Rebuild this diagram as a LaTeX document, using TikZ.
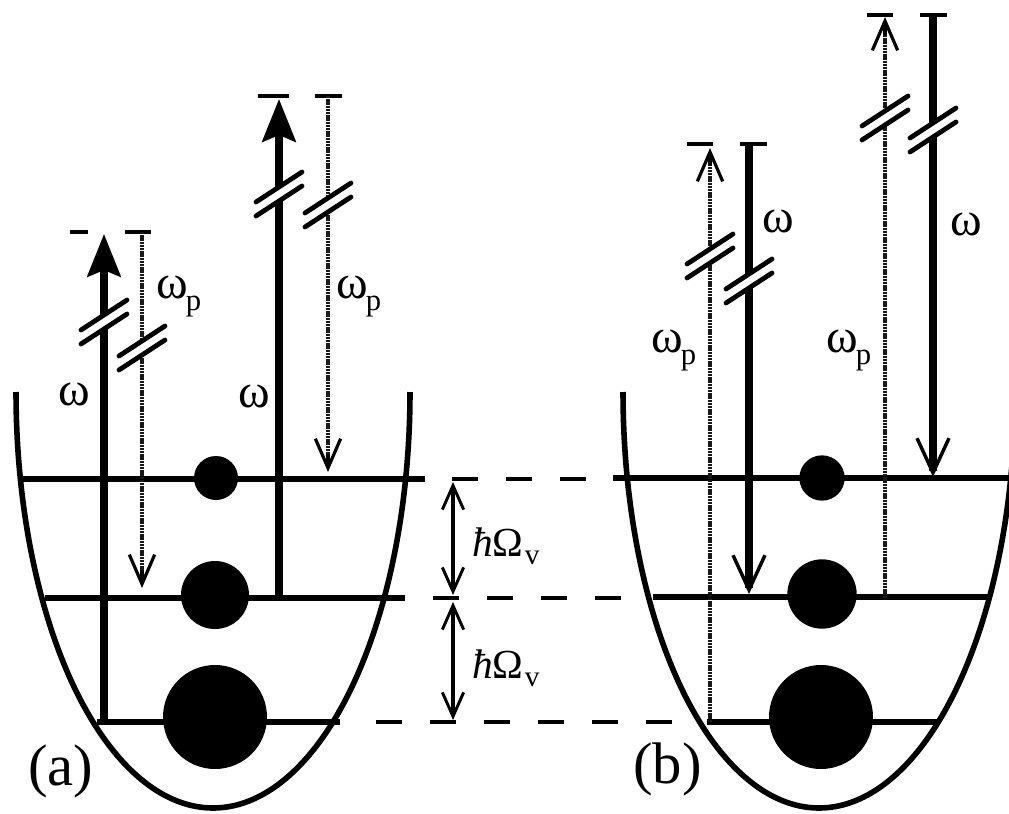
\documentclass[tikz,border=0pt]{standalone}
\usepackage{fontspec}
\newfontfamily\lbs{Liberation Serif}
\usetikzlibrary{arrows.meta}
\newcommand\brkmark[2]{%
  \draw[slash] ({#1-23},{#2+8}) -- ({#1+23},{#2-22});
  \draw[slash] ({#1-23},{#2+22}) -- ({#1+23},{#2-8});}
\newcommand\wlab{\lbs\fontsize{36}{36}\selectfont}
\newcommand\plab[1]{\kern-1.5pt\raisebox{-9pt}{\fontsize{23}{23}\selectfont #1}}
\newcommand\hOm{{\lbs\fontsize{31}{31}\selectfont{\itshape ħ}Ω\kern1pt\raisebox{-6pt}{\fontsize{22}{22}\selectfont v}}}
\begin{document}
\begin{tikzpicture}[x=0.75pt,y=-0.75pt,
  lvl/.style={line width=4pt},
  well/.style={line width=4.2pt},
  dsh/.style={line width=3.4pt, dash pattern=on 19.5pt off 21pt},
  thk/.style={line width=5.3pt},
  dotl/.style={line width=3pt, black!90, dash pattern=on 1.8pt off 0.6pt},
  topbar/.style={line width=3.2pt},
  slash/.style={line width=3.6pt, line cap=round},
  tipup/.style={-{Stealth[length=32pt,width=25pt,inset=5pt]}},
  tipv/.style={-{Straight Barb[length=26pt,width=24pt,line width=2.6pt]}},
  tipd/.style={-{Straight Barb[length=22pt,width=19pt,line width=2.4pt]}},
  hw/.style={line width=2.8pt, {Straight Barb[length=18pt,width=16pt,line width=2.2pt]}-{Straight Barb[length=18pt,width=16pt,line width=2.2pt]}},
  ball/.style={circle, fill=black, inner sep=0pt},
  lab/.style={inner sep=0pt, anchor=base west}
]
\useasboundingbox (0,0) rectangle (1009,813);
\clip (0,0) rectangle (1009,813);

% wells
\draw[well] plot[domain=180:360, samples=90, smooth] ({213+197*cos(\x)}, {392-416*sin(\x)});
\draw[well] plot[domain=180:360, samples=90, smooth] ({819+196*cos(\x)}, {392-416*sin(\x)});

% levels (a)
\draw[lvl] (20,479) -- (425,479);
\draw[lvl] (45,598) -- (405,598);
\draw[lvl] (97,722) -- (340,722);
% levels (b)
\draw[lvl] (613,478) -- (1009,478);
\draw[lvl] (653,597) -- (990,597);
\draw[lvl] (707,722) -- (937,722);
% dashed connections
\draw[dsh] (452,479) -- (587,479);
\draw[dsh] (433,598) -- (622,598);
\draw[dsh] (376,722) -- (672,722);

% populations
\node[ball, minimum size=33pt] (pa1) at (216,478) {};
\node[ball, minimum size=51pt] (pa2) at (215,595) {};
\node[ball, minimum size=78pt] (pa3) at (215,717) {};
\node[ball, minimum size=34pt] (pb1) at (822,478) {};
\node[ball, minimum size=52pt] (pb2) at (822,594) {};
\node[ball, minimum size=78pt] (pb3) at (821,717) {};

% ---- (a) ----
% A1 thick up omega
\coordinate (a1b) at (104,722); \coordinate (a1t) at (104,234);
\draw[thk] (a1b) -- (104,329);
\draw[thk, tipup] (104,315) -- (a1t);
\brkmark{104}{322}
\draw[topbar] (70,232) -- (88,232);
% A2 dotted down omega_p
\coordinate (a2t) at (142,232); \coordinate (a2b) at (142,588);
\draw[topbar] (125,232) -- (151,232);
\draw[dotl] (a2t) -- (142,341);
\draw[dotl] (142,355) -- (142,578);
\draw[line width=2.6pt, tipd] (142,570) -- (a2b);
\brkmark{142}{348}
% A3 thick up omega
\coordinate (a3b) at (279,598); \coordinate (a3t) at (279,99);
\draw[thk] (a3b) -- (279,201);
\draw[thk, tipup] (279,187) -- (a3t);
\brkmark{279}{194}
\draw[topbar] (258,96) -- (289,96);
% A4 dotted down omega_p
\coordinate (a4t) at (328,96); \coordinate (a4b) at (328,472);
\draw[topbar] (315,96) -- (342,96);
\draw[dotl] (a4t) -- (328,198);
\draw[dotl] (328,212) -- (328,462);
\draw[line width=2.6pt, tipd] (328,454) -- (a4b);
\brkmark{328}{205}

% hbar Omega arrows
\coordinate (h1) at (453,482); \coordinate (h2) at (453,595);
\coordinate (h3) at (453,602); \coordinate (h4) at (453,720);
\draw[hw] (h1) -- (h2);
\draw[hw] (h3) -- (h4);

% ---- (b) ----
% B1 dotted up omega_p
\coordinate (b1b) at (710,722); \coordinate (b1t) at (710,148);
\draw[topbar] (687,144) -- (713,144);
\draw[dotl] (b1b) -- (710,263);
\draw[dotl] (710,249) -- (710,158);
\draw[line width=2.6pt, tipd] (710,166) -- (b1t);
\brkmark{710}{256}
% B2 thick down omega
\coordinate (b2t) at (749,144); \coordinate (b2b) at (749,594);
\draw[topbar] (740,144) -- (767,144);
\draw[thk] (b2t) -- (749,274);
\draw[thk, tipv] (749,288) -- (b2b);
\brkmark{749}{281}
% B3 dotted up omega_p
\coordinate (b3b) at (885,598); \coordinate (b3t) at (885,17);
\draw[topbar] (867,15) -- (893,15);
\draw[dotl] (b3b) -- (885,125);
\draw[dotl] (885,111) -- (885,27);
\draw[line width=2.6pt, tipd] (885,35) -- (b3t);
\brkmark{885}{118}
% B4 thick down omega
\coordinate (b4t) at (933,15); \coordinate (b4b) at (933,477);
\draw[topbar] (920,15) -- (947,15);
\draw[thk] (b4t) -- (933,123);
\draw[thk, tipv] (933,137) -- (b4b);
\brkmark{933}{130}

% labels
\node[lab] (la1) at (58,405) {\wlab ω};
\node[lab] (la2) at (156,298) {\wlab ω\plab{p}};
\node[lab] (la3) at (238,407) {\wlab ω};
\node[lab] (la4) at (336,298) {\wlab ω\plab{p}};
\node[lab] (lh1) at (472,556) {\hOm};
\node[lab] (lh2) at (472,678) {\hOm};
\node[lab] (lb1) at (651,352) {\wlab ω\plab{p}};
\node[lab] (lb2) at (762,232) {\wlab ω};
\node[lab] (lb3) at (826,352) {\wlab ω\plab{p}};
\node[lab] (lb4) at (950,235) {\wlab ω};
\node[lab] (pa) at (28,785) {\lbs\fontsize{44}{44}\selectfont (a)};
\node[lab] (pb) at (633,783) {\lbs\fontsize{44}{44}\selectfont (b)};
\end{tikzpicture}
\end{document}
